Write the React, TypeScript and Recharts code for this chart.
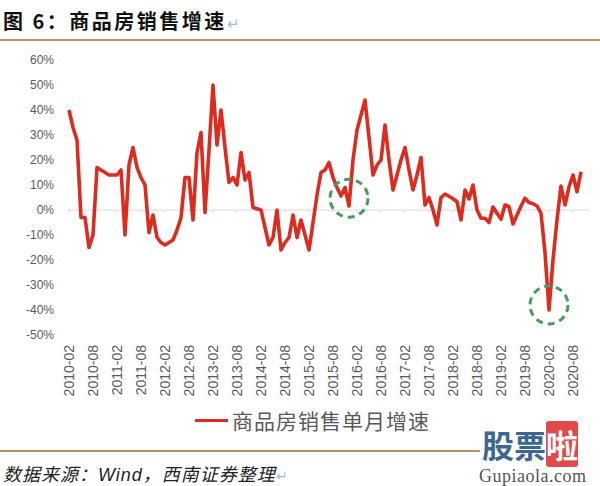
import React from "react";
import {
  LineChart,
  Line,
  XAxis,
  YAxis,
  ReferenceLine,
  ReferenceDot,
} from "recharts";

// 商品房销售单月增速 (%), 2010-02 .. 2020-10
const GROWTH = [
  40, 33, 28, -3, -3, -15, -10, 17, 16, 15, 14, 14,
  14, 16, -10, 18, 25, 17, 13, 10, -9, -2, -11, -13,
  -14, -13, -12, -8, -3, 13, 13, -4, 23, 31, -1, 24,
  50, 26, 40, 25, 11, 13, 10, 23, 12, 15, 1, 0.5,
  0, -7, -14, -11, 0, -16, -13, -11, -2, -11, -4, -10,
  -16, -5, 6, 15, 16, 19, 13, 9, 5.6, 9, 1.6, 20,
  32, 38, 44, 29, 14, 18, 20, 34, 20, 8, 14, 20,
  25, 16, 8, 14, 21, 2, 5, 0, -6, 5, 6.4, 5.5,
  4.5, 3.3, -4, 8, 4.4, 10, 0, -3.3, -3.3, -5, 1.2, -1.3,
  -3.7, 2, 1.3, -5.6, -2, 1.5, 4.7, 3, 2.5, 1.6, -1.3, -17,
  -40, -20, -4, 9.6, 2, 9.3, 14, 7.3, 15.3,
];

const MONTHS = GROWTH.map((_, i) => {
  const m = 1 + i; // 2010-02 is month index 1 of 2010
  const year = 2010 + Math.floor(m / 12);
  const month = (m % 12) + 1;
  return `${year}-${String(month).padStart(2, "0")}`;
});

const TICK_LABELS = [
  "2010-02", "2010-08", "2011-02", "2011-08", "2012-02", "2012-08",
  "2013-02", "2013-08", "2014-02", "2014-08", "2015-02", "2015-08",
  "2016-02", "2016-08", "2017-02", "2017-08", "2018-02", "2018-08",
  "2019-02", "2019-08", "2020-02", "2020-08",
];

const Y_TICKS = [-50, -40, -30, -20, -10, 0, 10, 20, 30, 40, 50, 60];

// green dashed highlight circles
const HIGHLIGHTS = [
  { month: "2015-12", value: 4.7 },
  { month: "2020-02", value: -38 },
];

const data = MONTHS.map((month, i) => ({ month, growth: GROWTH[i] }));

const RED = "#dc2b1f";
const GREY = "#595959";
const NUM_FONT = "'Liberation Sans', Arial, sans-serif";
const CJK_FONT = "'Noto Sans CJK SC', sans-serif";

function XTick({ x, y, payload }: any) {
  return (
    <text
      transform={`translate(${x + 5},${y + 10}) rotate(-90)`}
      textAnchor="end"
      fontSize={14}
      fill={GREY}
      fontFamily={NUM_FONT}
    >
      {payload.value}
    </text>
  );
}

export default function App() {
  return (
    <div
      style={{
        position: "absolute",
        left: 0,
        top: 0,
        width: 600,
        height: 486,
        background: "#fff",
        overflow: "hidden",
      }}
    >
      {/* title */}
      <div
        style={{
          position: "absolute",
          left: 3,
          top: 7,
          fontFamily: CJK_FONT,
          fontWeight: 700,
          fontSize: 20,
          letterSpacing: 2.5,
          lineHeight: "28px",
          color: "#111",
          whiteSpace: "nowrap",
        }}
      >
        图 6：商品房销售增速
        <span style={{ color: "#9bbbe0", fontWeight: 400, fontSize: 15 }}>↵</span>
      </div>
      <div
        style={{
          position: "absolute",
          left: 0,
          top: 39,
          width: 600,
          height: 2,
          background: "#b3926c",
        }}
      />

      <LineChart
        width={600}
        height={486}
        data={data}
        margin={{ top: 60, right: 10, left: 0, bottom: 100 }}
        style={{ position: "absolute", left: 0, top: 0 }}
      >
        <XAxis
          dataKey="month"
          ticks={TICK_LABELS}
          interval={0}
          tick={<XTick />}
          tickLine={false}
          axisLine={false}
          tickSize={0}
          tickMargin={0}
          height={51}
          padding={{ left: 2, right: 9 }}
        />
        <YAxis
          domain={[-50, 60]}
          ticks={Y_TICKS}
          interval={0}
          width={67}
          tickLine={false}
          axisLine={false}
          tickSize={0}
          tickMargin={13}
          tickFormatter={(v: number) => `${v}%`}
          tick={{ fontSize: 12, fill: GREY, fontFamily: NUM_FONT }}
        />
        <ReferenceLine y={0} stroke="#d9d9d9" strokeWidth={1} />
        {TICK_LABELS.map((t) => (
          <ReferenceLine
            key={t}
            segment={[
              { x: t, y: 0 },
              { x: t, y: -1.2 },
            ]}
            stroke="#d9d9d9"
            strokeWidth={1}
          />
        ))}
        <Line
          type="linear"
          dataKey="growth"
          stroke={RED}
          strokeWidth={3.6}
          strokeLinejoin="round"
          dot={false}
          isAnimationActive={false}
        />
        {HIGHLIGHTS.map((h) => (
          <ReferenceDot
            key={h.month}
            x={h.month}
            y={h.value}
            r={19}
            fill="none"
            stroke="#4e9a5c"
            strokeWidth={3}
            strokeDasharray="7 5"
          />
        ))}
      </LineChart>

      {/* legend */}
      <div
        style={{
          position: "absolute",
          left: 195,
          top: 406,
          display: "flex",
          alignItems: "center",
          whiteSpace: "nowrap",
        }}
      >
        <span
          style={{
            display: "inline-block",
            width: 33,
            height: 3,
            background: RED,
            marginRight: 4,
          }}
        />
        <span
          style={{
            fontFamily: CJK_FONT,
            fontSize: 21,
            letterSpacing: 1,
            color: GREY,
            lineHeight: "28px",
          }}
        >
          商品房销售单月增速
        </span>
      </div>

      {/* footer */}
      <div
        style={{
          position: "absolute",
          left: 0,
          top: 450,
          width: 480,
          height: 2,
          background: "#b3926c",
        }}
      />
      <div
        style={{
          position: "absolute",
          left: 3,
          top: 461,
          fontFamily: CJK_FONT,
          fontStyle: "italic",
          fontSize: 18,
          letterSpacing: 1,
          lineHeight: "24px",
          color: "#222",
          whiteSpace: "nowrap",
        }}
      >
        数据来源：
        <span style={{ fontFamily: NUM_FONT }}>Wind</span>，西南证券整理
        <span style={{ color: "#9bbbe0", fontStyle: "normal", fontSize: 14 }}>↵</span>
      </div>

      {/* watermark */}
      <div
        style={{
          position: "absolute",
          left: 482,
          top: 426,
          fontFamily: CJK_FONT,
          fontWeight: 700,
          fontSize: 32,
          lineHeight: "36px",
          whiteSpace: "nowrap",
          color: "#3d6792",
        }}
      >
        股票
        <span
          style={{
            background: "#e04a4a",
            color: "#fff",
            borderRadius: 3,
          }}
        >
          啦
        </span>
      </div>
      <div
        style={{
          position: "absolute",
          left: 479,
          top: 466,
          fontFamily: "'Liberation Serif', serif",
          fontSize: 18,
          letterSpacing: 0.5,
          color: "#555",
          whiteSpace: "nowrap",
          lineHeight: "20px",
        }}
      >
        Gupiaola.com
      </div>
    </div>
  );
}
